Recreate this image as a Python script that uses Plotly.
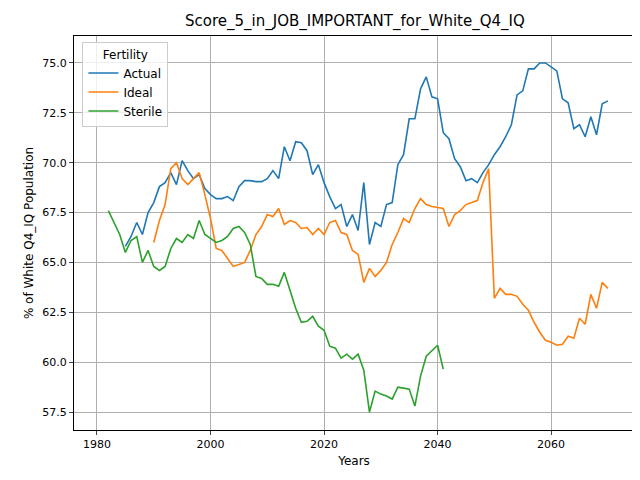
import plotly.graph_objects as go

actual_years = list(range(1985, 2071))
actual = [65.8, 66.3, 67.0, 66.4, 67.5, 68.0, 68.8, 69.0, 69.5, 68.9,
          70.1, 69.6, 69.2, 69.4, 68.7, 68.4, 68.2, 68.2, 68.3, 68.1,
          68.8, 69.1, 69.1, 69.05, 69.05, 69.2, 69.6, 69.2, 70.8, 70.1,
          71.05, 71.0, 70.6, 69.4, 69.9, 69.0, 68.3, 67.7, 67.9, 66.8,
          67.4, 66.6, 69.0, 65.9, 67.0, 66.8, 67.9, 68.0, 69.9, 70.4,
          72.2, 72.2, 73.7, 74.3, 73.3, 73.2, 71.5, 71.2, 70.2, 69.8,
          69.1, 69.2, 69.0, 69.5, 69.9, 70.4, 70.8, 71.3, 71.9, 73.4,
          73.6, 74.7, 74.7, 75.0, 75.0, 74.8, 74.6, 73.2, 73.0, 71.7,
          71.9, 71.3, 72.3, 71.4, 72.95, 73.1]

ideal_years = list(range(1990, 2071))
ideal = [66.0, 67.1, 67.9, 69.7, 70.0, 69.2, 68.9, 69.2, 69.5, 68.4,
         67.2, 65.7, 65.6, 65.2, 64.8, 64.9, 65.0, 65.6, 66.4, 66.8,
         67.4, 67.3, 67.7, 66.9, 67.1, 67.0, 66.7, 66.75, 66.4, 66.7,
         66.4, 67.0, 67.1, 66.5, 66.4, 65.6, 65.4, 64.0, 64.7, 64.3,
         64.6, 65.0, 65.9, 66.5, 67.2, 67.0, 67.7, 68.2, 67.9, 67.8,
         67.75, 67.7, 66.8, 67.4, 67.6, 67.9, 68.0, 68.1, 69.0, 69.7,
         63.2, 63.7, 63.4, 63.4, 63.3, 62.9, 62.6, 62.0, 61.5, 61.1,
         61.0, 60.85, 60.9, 61.3, 61.2, 62.2, 61.9, 63.4, 62.7, 64.0,
         63.7]

sterile_years = list(range(1982, 2042))
sterile = [67.6, 67.0, 66.4, 65.5, 66.1, 66.3, 65.0, 65.6, 64.8, 64.6,
           64.8, 65.7, 66.2, 66.0, 66.4, 66.2, 67.1, 66.4, 66.2, 66.0,
           66.1, 66.3, 66.7, 66.8, 66.5, 65.9, 64.3, 64.2, 63.9, 63.9,
           63.8, 64.5, 63.6, 62.7, 62.0, 62.05, 62.3, 61.8, 61.6, 60.8,
           60.7, 60.2, 60.4, 60.15, 60.4, 59.6, 57.5, 58.55, 58.4, 58.3,
           58.15, 58.75, 58.7, 58.65, 57.8, 59.3, 60.3, 60.6, 60.85, 59.65]

series = [("Actual", actual_years, actual, "#1f77b4"),
          ("Ideal", ideal_years, ideal, "#ff7f0e"),
          ("Sterile", sterile_years, sterile, "#2ca02c")]

fig = go.Figure()
for name, xs, ys, color in series:
    fig.add_trace(go.Scatter(x=xs, y=ys, name=name, mode="lines",
                             line=dict(color=color, width=1.6)))

axis_style = dict(showgrid=True, gridcolor="#b0b0b0", gridwidth=1, showline=True,
                  linecolor="black", linewidth=1, mirror=True, ticks="outside", ticklen=4,
                  zeroline=False, automargin=False, tickfont=dict(size=11, color="black"))
fig.update_xaxes(range=[1975.95, 2074.6], tickvals=[1980, 2000, 2020, 2040, 2060],
                 title=dict(text="Years", font=dict(size=12), standoff=6), **axis_style)
fig.update_yaxes(range=[56.6, 76.35], tickvals=[57.5, 60, 62.5, 65, 67.5, 70, 72.5, 75],
                 ticktext=["57.5", "60.0", "62.5", "65.0", "67.5", "70.0", "72.5", "75.0"],
                 title=dict(text="% of White Q4_IQ Population", font=dict(size=12), standoff=6),
                 **axis_style)
fig.update_layout(
    title=dict(text="Score_5_in_JOB_IMPORTANT_for_White_Q4_IQ", x=0.542, xanchor="center",
               y=0.985, yanchor="top", font=dict(size=15, color="black")),
    width=640, height=480, template="none", plot_bgcolor="white", paper_bgcolor="white",
    font=dict(family="DejaVu Sans", color="black"),
    margin=dict(l=66, r=14, t=28, b=58, autoexpand=False),
    legend=dict(x=0.015, y=0.985, xanchor="left", yanchor="top",
                title=dict(text="Fertility", side="top center", font=dict(size=12)),
                bordercolor="#cccccc", borderwidth=1, bgcolor="rgba(255,255,255,0.8)",
                font=dict(size=12)),
)
fig.write_html("out.html")
